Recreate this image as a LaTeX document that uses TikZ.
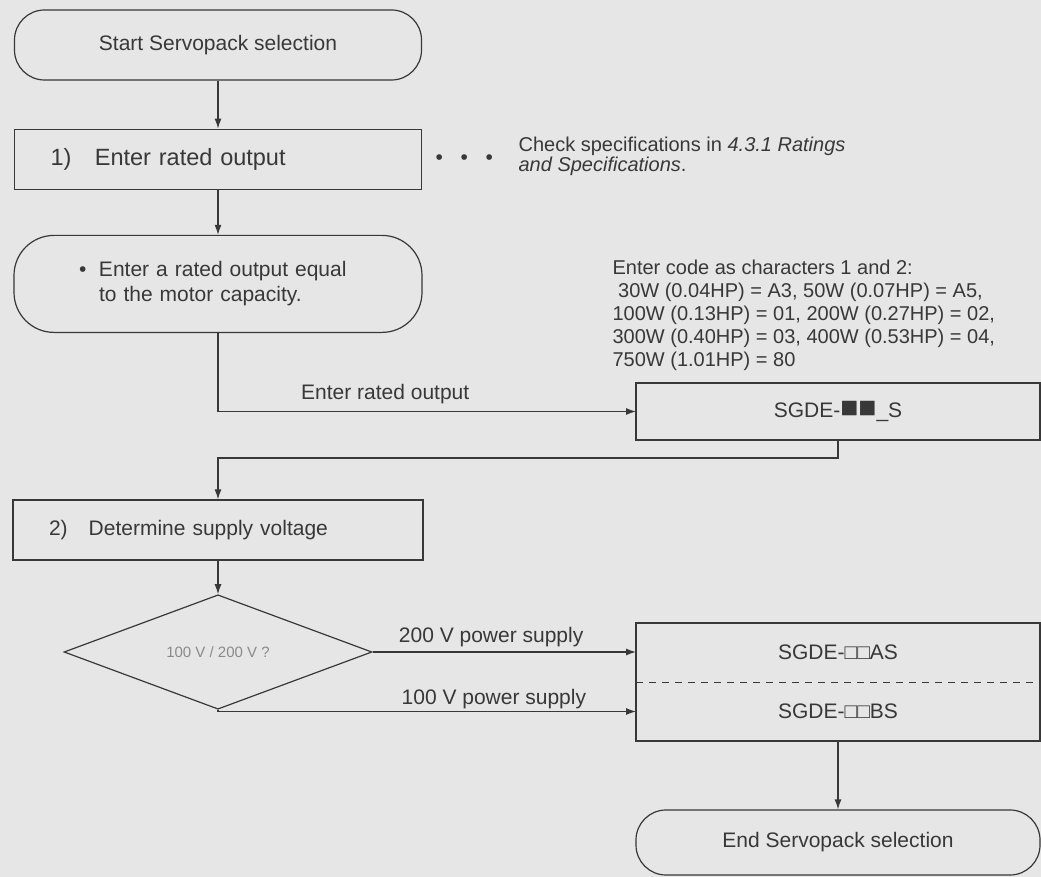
\documentclass[tikz,border=0pt]{standalone}
\usepackage{fontspec}
\setmainfont{Liberation Sans}
\usetikzlibrary{arrows.meta, positioning, shapes.geometric}
\definecolor{paper}{HTML}{E6E6E6}
\definecolor{ink}{HTML}{383838}
\definecolor{faint}{HTML}{8A8A8A}

\begin{document}
\begin{tikzpicture}[x=1pt, y=-1pt, color=ink, line width=1.2pt, >={Latex[length=10pt, width=7pt]},
    font=\fontsize{21pt}{25pt}\selectfont,
    term/.style={draw, rounded corners=30pt, minimum width=407pt, minimum height=70pt, inner sep=0pt},
    stepbox/.style={draw, minimum height=60pt, inner xsep=36pt, inner ysep=0pt, align=left},
    codebox/.style={minimum width=404pt, inner sep=0pt, outer sep=0pt},
    lbl/.style={above=5pt, inner sep=0pt}]

  % paper
  \fill[paper] (0,0) rectangle (1041,877);

  % start and step 1
  \node[term] (start) at (218,45) {Start Servopack selection};
  \node[stepbox, text width=335pt, font=\fontsize{23.5pt}{28pt}\selectfont, below=48pt of start] (enter)
    {1)\quad Enter rated output};
  \node[inner sep=0pt, right=13pt of enter] (dots) {•\hspace{17.6pt}•\hspace{17.6pt}•};
  \node[anchor=west, align=left, inner sep=0pt, font=\fontsize{20pt}{20pt}\selectfont] (check) at (518,156)
    {Check specifications in \textit{4.3.1 Ratings}\\\textit{and Specifications}.};

  % motor capacity hint
  \node[term, rounded corners=40pt, minimum width=408pt, minimum height=97pt, text width=278pt, align=left,
        below=45pt of enter] (motor)
    {\makebox[20pt][l]{•}Enter a rated output equal\\\hspace*{20pt}to the motor capacity.};

  % code table
  \node[anchor=north west, align=left, inner sep=0pt, font=\fontsize{20pt}{23pt}\selectfont] (legend) at (612,259)
    {Enter code as characters 1 and 2:\\
     \ 30W (0.04HP) = A3, 50W (0.07HP) = A5,\\
     100W (0.13HP) = 01, 200W (0.27HP) = 02,\\
     300W (0.40HP) = 03, 400W (0.53HP) = 04,\\
     750W (1.01HP) = 80};
  \node[codebox, draw, minimum height=57pt] (sgde1) at (838,411.5)
    {SGDE-{\fontsize{30pt}{30pt}\selectfont ■■}\_S};

  % step 2 and decision
  \node[stepbox, text width=338pt] (volt) at (218,530) {2)\quad Determine supply voltage};
  \node[diamond, draw, minimum width=308pt, minimum height=90pt, inner sep=0pt, text=faint,
        font=\fontsize{15pt}{18pt}\selectfont] (dia) at (218,652) {100 V / 200 V ?};

  % result
  \node[codebox, minimum height=59pt] (rowa) at (838,652.5) {SGDE-□□AS};
  \node[codebox, minimum height=59pt, below=0pt of rowa] (rowb) {SGDE-□□BS};
  \draw (rowa.north west) rectangle (rowb.south east);
  \draw[line width=0.8pt, dash pattern=on 7pt off 6pt] (rowa.south west) -- (rowa.south east);
  \node[term, minimum width=404pt, minimum height=65pt] (finish) at (838,842.5) {End Servopack selection};

  \draw[->] (start) -- (enter);
  \draw[->] (enter) -- (motor);
  \draw[->] (motor) |- (sgde1) node[lbl, above=7pt, pos=0.7] {Enter rated output};
  \draw[->] (sgde1.south) -- ++(0,18) -| (volt.north);
  \draw[->] (volt) -- (dia);
  \draw[->] (dia.east) -- (dia.east -| rowa.west) node[lbl, pos=0.45] {200 V power supply};
  \draw[->] (dia.south) |- (rowb.west) node[lbl, above=2.5pt, pos=0.83] {100 V power supply};
  \draw[->] (rowb) -- (finish);
\end{tikzpicture}
\end{document}
